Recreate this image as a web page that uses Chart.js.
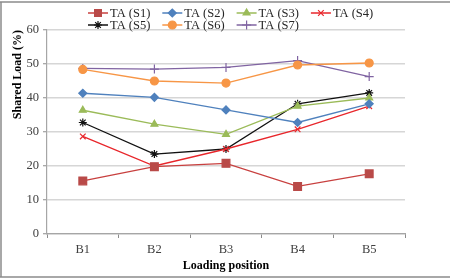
<!DOCTYPE html>
<html>
<head>
<meta charset="utf-8">
<script src="https://cdn.jsdelivr.net/npm/chart.js@4/dist/chart.umd.min.js"></script>
<style>
html,body{margin:0;padding:0;background:#fff;}
#wrap{width:450px;height:279px;position:relative;}
</style>
</head>
<body>
<div id="wrap"><canvas id="c" width="450" height="279"></canvas></div>
<script>
const categories = ['B1', 'B2', 'B3', 'B4', 'B5'];
const seriesNames = ['TA (S1)', 'TA (S2)', 'TA (S3)', 'TA (S4)', 'TA (S5)', 'TA (S6)', 'TA (S7)'];
const s1 = [15.6, 19.8, 20.8, 14.0, 17.7];
const s2 = [41.4, 40.2, 36.5, 32.8, 38.3];
const s3 = [36.4, 32.3, 29.3, 37.6, 40.0];
const s4 = [28.7, 20.0, 25.0, 30.8, 37.6];
const s5 = [32.8, 23.5, 25.0, 38.3, 41.5];
const s6 = [48.4, 45.0, 44.4, 49.7, 50.3];
const s7 = [48.7, 48.5, 49.0, 51.0, 46.3];
const yTicks = [0, 10, 20, 30, 40, 50, 60];
const xTitle = 'Loading position';
const yTitle = 'Shared Load (%)';

const styles = [
  {line: '#C8403F', fill: '#B94A48', point: 'rect', r: 5.5},
  {line: '#4F81BD', fill: '#4F81BD', point: 'rectRot', r: 4},
  {line: '#9BBB59', fill: '#9BBB59', point: 'triangle', r: 4},
  {line: '#E8262B', fill: '#E8262B', point: 'crossRot', r: 4},
  {line: '#111111', fill: '#111111', point: 'star', r: 4},
  {line: '#F79646', fill: '#F79646', point: 'circle', r: 4},
  {line: '#8064A2', fill: '#8064A2', point: 'cross', r: 4.5}
];
const values = [s1, s2, s3, s4, s5, s6, s7];

const datasets = values.map((v, i) => ({
  label: seriesNames[i],
  data: v,
  borderColor: styles[i].line,
  backgroundColor: styles[i].fill,
  pointBackgroundColor: styles[i].fill,
  pointBorderColor: styles[i].fill,
  pointStyle: styles[i].point,
  pointRadius: styles[i].r,
  pointBorderWidth: 1.2,
  borderWidth: 1.3,
  tension: 0,
  fill: false
}));

const FONT = '"Liberation Serif", "Times New Roman", serif';

const framePlugin = {
  id: 'frame',
  afterDraw(chart) {
    const ctx = chart.ctx;
    ctx.save();
    ctx.strokeStyle = '#8C8C8C';
    ctx.lineWidth = 1.5;
    ctx.beginPath();
    ctx.moveTo(0, 2); ctx.lineTo(450, 2);
    ctx.moveTo(0, 277); ctx.lineTo(450, 277);
    ctx.moveTo(1, 2); ctx.lineTo(1, 277);
    ctx.stroke();
    ctx.restore();
  }
};

const legendPlugin = {
  id: 'customLegend',
  afterDraw(chart) {
    const ctx = chart.ctx;
    ctx.save();
    ctx.font = '12.5px ' + FONT;
    ctx.textBaseline = 'middle';
    ctx.textAlign = 'left';
    const startX = 88, colW = 74.3, rowY = [13, 25], perRow = 4, lineLen = 20;
    chart.data.datasets.forEach((ds, i) => {
      const col = i % perRow, row = Math.floor(i / perRow);
      const x = startX + col * colW, y = rowY[row];
      ctx.strokeStyle = ds.borderColor;
      ctx.lineWidth = 1.5;
      ctx.beginPath(); ctx.moveTo(x, y); ctx.lineTo(x + lineLen, y); ctx.stroke();
      ctx.fillStyle = ds.pointBackgroundColor;
      ctx.strokeStyle = ds.pointBorderColor;
      ctx.lineWidth = 1.2;
      Chart.helpers.drawPoint(ctx, {pointStyle: ds.pointStyle, radius: Math.min(ds.pointRadius, 4.8), rotation: 0, borderWidth: 1.2}, x + lineLen / 2, y);
      ctx.fillStyle = '#262626';
      ctx.fillText(ds.label, x + lineLen + 2, y + 0.5);
    });
    ctx.restore();
  }
};

new Chart(document.getElementById('c'), {
  type: 'line',
  data: {labels: categories, datasets},
  options: {
    responsive: false,
    animation: false,
    devicePixelRatio: 1,
    layout: {padding: {left: 0, right: 45, top: 30, bottom: 0}},
    plugins: {legend: {display: false}, tooltip: {enabled: false}},
    scales: {
      x: {
        offset: true,
        grid: {display: true, drawOnChartArea: false, offset: true, tickLength: 4, tickColor: '#8C8C8C', tickWidth: 1},
        border: {color: '#A6A6A6', width: 1.2},
        ticks: {color: '#404040', font: {family: FONT, size: 12.5}, padding: 4, maxRotation: 0},
        title: {display: true, text: xTitle, color: '#000', font: {family: FONT, size: 12, weight: 'bold'}, padding: {top: 2, bottom: 6}},
        afterFit(scale) { scale.height = 45; }
      },
      y: {
        min: 0, max: 60,
        afterBuildTicks(scale) { scale.ticks = yTicks.map(v => ({value: v})); },
        grid: {color: '#D6D6D6', lineWidth: 1.5, tickLength: 4, tickColor: '#8C8C8C', tickWidth: 1},
        border: {color: '#A6A6A6', width: 1.2},
        ticks: {color: '#404040', font: {family: FONT, size: 12.5}, padding: 4},
        title: {display: true, text: yTitle, align: 'end', color: '#000', font: {family: FONT, size: 12, weight: 'bold'}, padding: {top: 11, bottom: 0}},
        afterFit(scale) { scale.width = 47; }
      }
    }
  },
  plugins: [framePlugin, legendPlugin]
});
</script>
</body>
</html>
